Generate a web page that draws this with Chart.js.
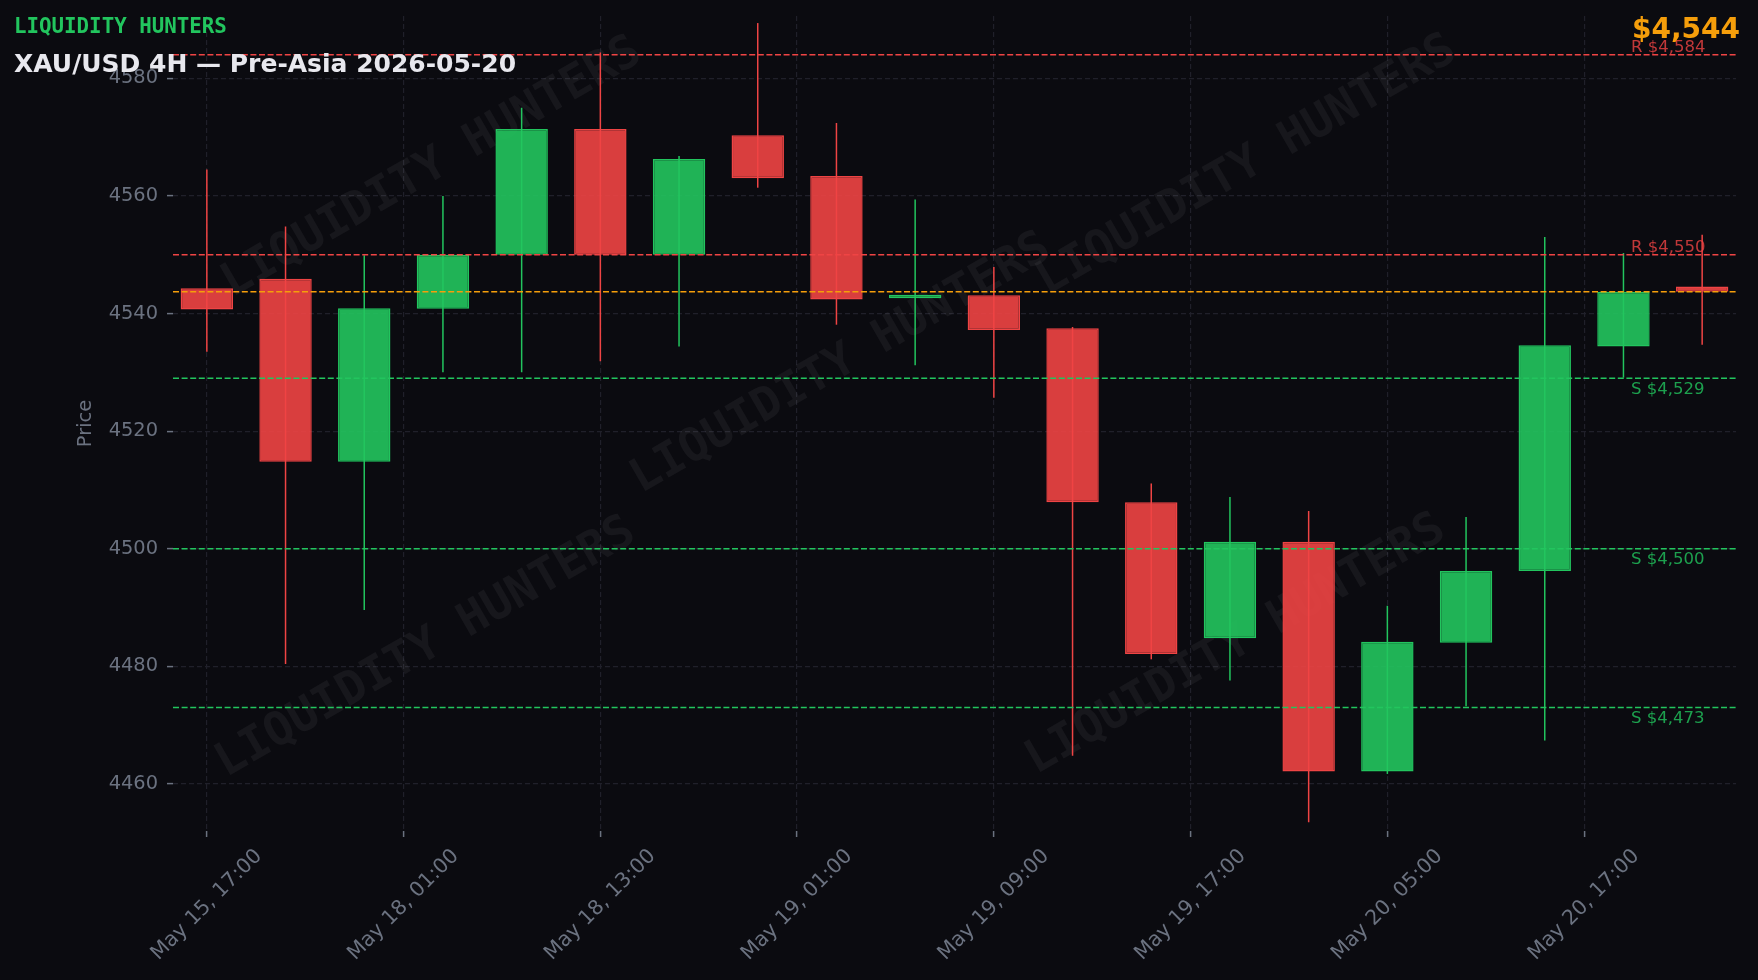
<!DOCTYPE html>
<html>
<head>
<meta charset="utf-8">
<title>XAU/USD 4H</title>
<script src="https://cdn.jsdelivr.net/npm/chart.js@4.4.1/dist/chart.umd.min.js"></script>
<style>
  html, body { margin: 0; padding: 0; background: #0b0b10; }
  #wrap { width: 1758px; height: 980px; position: relative; }
</style>
</head>
<body>
<div id="wrap"><canvas id="chart"></canvas></div>
<script>
// ✅ data (4H candles, index 0..19)
const opens  = [4544.3, 4545.9, 4514.8, 4540.8, 4550.0, 4571.4, 4550.0, 4570.3, 4563.4, 4542.6, 4543.1, 4537.5, 4507.9, 4484.8, 4501.2, 4462.1, 4484.0, 4496.2, 4534.4, 4544.6];
const highs  = [4564.5, 4554.8, 4549.9, 4560.0, 4575.0, 4584.4, 4566.8, 4589.4, 4572.4, 4559.4, 4547.9, 4537.7, 4511.1, 4508.8, 4506.4, 4490.3, 4505.4, 4553.0, 4550.3, 4553.4];
const lows   = [4533.5, 4480.4, 4489.6, 4530.0, 4530.0, 4531.9, 4534.4, 4561.4, 4538.1, 4531.2, 4525.7, 4464.8, 4481.2, 4477.6, 4453.5, 4461.7, 4473.2, 4467.4, 4529.1, 4534.7];
const closes = [4540.7, 4514.8, 4540.9, 4550.0, 4571.4, 4550.0, 4566.3, 4563.0, 4542.4, 4543.2, 4537.2, 4507.9, 4482.1, 4501.2, 4462.1, 4484.2, 4496.2, 4534.6, 4543.7, 4543.7];

// ✅ axis ticks
const xTickPos = [0, 2.5, 5, 7.5, 10, 12.5, 15, 17.5];
const xTickLabels = ["May 15, 17:00", "May 18, 01:00", "May 18, 13:00", "May 19, 01:00", "May 19, 09:00", "May 19, 17:00", "May 20, 05:00", "May 20, 17:00"];
const yTicks = [4460, 4480, 4500, 4520, 4540, 4560, 4580];

// ✅ levels
const resistance = [4584, 4550];
const support = [4529, 4500, 4473];
const lastPrice = 4543.7;

const BG = "#0b0b10";
const RED = "#ef4444";
const GREEN = "#22c55e";
const ORANGE = "#f59e0b";
const GRID = "#20202a";
const MUTED = "#6b7280";

const isUp = closes.map((c, i) => c >= opens[i]);
const bodies = opens.map((o, i) => ({ x: i, y: [o, closes[i]] }));
const wicks = lows.map((l, i) => ({ x: i, y: [l, highs[i]] }));

const fmt = v => "$" + Math.round(v).toLocaleString("en-US");

// background, watermark, level lines, titles, rotated x labels
const decor = {
  id: "decor",
  beforeDraw(chart) {
    const c = chart.ctx;
    c.save();
    c.fillStyle = BG;
    c.fillRect(0, 0, chart.width, chart.height);
    c.restore();
  },
  beforeDatasetsDraw(chart) {
    const c = chart.ctx;
    const spots = [[432, 168], [841, 364], [1247, 166], [426, 648], [1236, 645]];
    c.save();
    c.fillStyle = "rgba(255,255,255,0.05)";
    c.font = "bold 46.5px 'DejaVu Sans Mono'";
    c.textAlign = "center";
    c.textBaseline = "middle";
    spots.forEach(([x, y]) => {
      c.save();
      c.translate(x, y);
      c.rotate(-30 * Math.PI / 180);
      c.fillText("LIQUIDITY HUNTERS", 0, 0);
      c.restore();
    });
    c.restore();
  },
  afterDatasetsDraw(chart) {
    const c = chart.ctx;
    const { left, right } = chart.chartArea;
    const ys = chart.scales.y;
    const line = (v, color) => {
      const y = ys.getPixelForValue(v);
      c.save();
      c.strokeStyle = color;
      c.lineWidth = 1.6;
      c.setLineDash([6, 2.6]);
      c.beginPath();
      c.moveTo(left, y);
      c.lineTo(right, y);
      c.stroke();
      c.restore();
      return y;
    };
    c.save();
    c.font = "16.5px 'DejaVu Sans'";
    c.textAlign = "left";
    resistance.forEach(v => {
      const y = line(v, RED);
      c.fillStyle = "rgba(239,68,68,0.8)";
      c.textBaseline = "alphabetic";
      c.fillText("R " + fmt(v), 1631, y - 3);
    });
    support.forEach(v => {
      const y = line(v, GREEN);
      c.fillStyle = "rgba(34,197,94,0.8)";
      c.textBaseline = "top";
      c.fillText("S " + fmt(v), 1631, y + 3);
    });
    line(lastPrice, ORANGE);
    c.restore();
  },
  afterDraw(chart) {
    const c = chart.ctx;
    c.save();
    c.textBaseline = "alphabetic";
    c.textAlign = "left";
    c.fillStyle = GREEN;
    c.font = "bold 20.8px 'DejaVu Sans Mono'";
    c.fillText("LIQUIDITY HUNTERS", 14, 33);
    c.fillStyle = "#e8e8ee";
    c.font = "bold 25px 'DejaVu Sans'";
    c.fillText("XAU/USD 4H \u2014 Pre-Asia 2026-05-20", 14, 72);
    c.fillStyle = ORANGE;
    c.font = "bold 28px 'DejaVu Sans'";
    c.textAlign = "right";
    c.fillText(fmt(lastPrice), 1740, 38);

    // x tick labels, rotated 45deg, centred on tick like matplotlib
    const xs = chart.scales.x;
    const size = 20.5;
    c.font = size + "px 'DejaVu Sans'";
    c.fillStyle = MUTED;
    c.textAlign = "center";
    c.textBaseline = "middle";
    xTickPos.forEach((p, i) => {
      c.save();
      c.translate(xs.getPixelForValue(p), 905);
      c.rotate(-Math.PI / 4);
      c.fillText(xTickLabels[i], 0, 0);
      c.restore();
    });
    c.restore();
  }
};

const gridOpts = {
  color: GRID,
  lineWidth: 1.2,
  offset: false,
  drawTicks: true,
  tickLength: 6,
  tickColor: MUTED,
  tickWidth: 1.5,
  tickBorderDash: []
};

new Chart(document.getElementById("chart"), {
  type: "bar",
  data: {
    datasets: [
      {
        label: "body",
        data: bodies,
        backgroundColor: isUp.map(u => u ? "rgba(34,197,94,0.9)" : "rgba(239,68,68,0.9)"),
        borderColor: isUp.map(u => u ? GREEN : RED),
        borderWidth: 1.5,
        borderSkipped: false,
        grouped: false,
        categoryPercentage: 1,
        barPercentage: 0.666,
        order: 0
      },
      {
        label: "wick",
        data: wicks,
        backgroundColor: isUp.map(u => u ? GREEN : RED),
        borderWidth: 0,
        grouped: false,
        maxBarThickness: 1.5,
        order: 1
      }
    ]
  },
  options: {
    responsive: true,
    maintainAspectRatio: false,
    animation: false,
    layout: { padding: { top: 16, right: 22, left: 0, bottom: 0 } },
    plugins: { legend: { display: false }, tooltip: { enabled: false } },
    scales: {
      x: {
        type: "linear",
        offset: false,
        min: -0.43,
        max: 19.43,
        afterBuildTicks: s => { s.ticks = xTickPos.map(v => ({ value: v })); },
        afterFit: s => { s.height = 149; s.paddingLeft = 0; s.paddingRight = 0; },
        ticks: { display: false },
        grid: gridOpts,
        border: { display: false, dash: [5, 3] }
      },
      y: {
        min: 4452.0,
        max: 4590.6,
        afterBuildTicks: s => { s.ticks = yTicks.map(v => ({ value: v })); },
        afterFit: s => { s.width = 173; s.paddingTop = 0; s.paddingBottom = 0; },
        ticks: {
          color: MUTED,
          padding: 9,
          font: { family: "DejaVu Sans", size: 19.4 },
          callback: v => String(v)
        },
        grid: gridOpts,
        border: { display: false, dash: [5, 3] },
        title: {
          display: true,
          text: "Price",
          color: MUTED,
          font: { family: "DejaVu Sans", size: 19.4 },
          padding: { top: 74, bottom: 0 }
        }
      }
    }
  },
  plugins: [decor]
});
</script>
</body>
</html>
